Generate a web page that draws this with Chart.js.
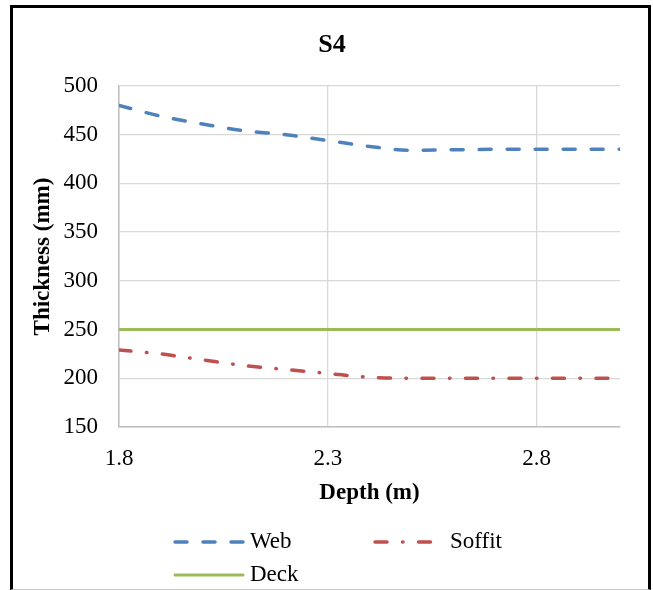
<!DOCTYPE html>
<html>
<head>
<meta charset="utf-8">
<title>S4</title>
<script src="https://cdn.jsdelivr.net/npm/chart.js@4.4.1/dist/chart.umd.min.js"></script>
<style>
  html, body { margin: 0; padding: 0; background: #fff; }
  #wrap { position: relative; width: 653px; height: 590px; overflow: hidden; }
  #frame {
    position: absolute; left: 10px; top: 5px; right: 2px; bottom: 0;
    border: 3px solid #000; border-bottom: 1px solid #c8c8c8;
    pointer-events: none;
  }
</style>
</head>
<body>
<div id="wrap">
  <canvas id="s4"></canvas>
  <div id="frame"></div>
</div>
<script>
const depth = [1.8, 1.9, 2.0, 2.1, 2.2, 2.3, 2.4, 2.5, 2.6, 2.7, 2.8, 2.9, 3.0];
const web = [480, 469, 461, 454, 450, 444, 438, 434, 434.5, 435, 435, 435, 435];
const soffit = [229, 225, 219, 213, 209, 205, 201, 200, 200, 200, 200, 200, 200];
const deck = [250, 250, 250, 250, 250, 250, 250, 250, 250, 250, 250, 250, 250];
const depthTicks = [1.8, 2.3, 2.8];

const serif = '"Liberation Serif", "Times New Roman", serif';
Chart.defaults.font.family = serif;
Chart.defaults.color = "#000";

const pts = ys => depth.map((x, i) => ({ x: x, y: ys[i] }));

// title centred on the whole frame, legend two per row
const legendSlots = [[173, 542], [373, 542], [173, 575]];
const frameText = {
	id: "frameText",
	afterDraw(chart) {
		const ctx = chart.ctx;
		ctx.save();
		ctx.fillStyle = "#000";
		ctx.font = "bold 26px " + serif;
		ctx.textAlign = "center";
		ctx.textBaseline = "middle";
		ctx.fillText("S4", 332, 45);
		ctx.restore();

		chart.data.datasets.forEach((ds, i) => {
			const [x, y] = legendSlots[i];
			ctx.save();
			ctx.strokeStyle = ds.borderColor;
			ctx.lineWidth = ds.borderWidth;
			ctx.lineCap = "round";
			ctx.setLineDash(ds.borderDash || []);
			ctx.beginPath();
			ctx.moveTo(x + 2, y);
			ctx.lineTo(x + 70, y);
			ctx.stroke();
			ctx.setLineDash([]);
			ctx.fillStyle = "#000";
			ctx.font = "23px " + serif;
			ctx.textBaseline = "middle";
			ctx.fillText(ds.label, x + 77, y);
			ctx.restore();
		});
	}
};

new Chart(document.querySelector("#s4"), {
	type: "line",
	data: {
		datasets: [{
			label: "Web",
			data: pts(web),
			borderColor: "#4F81BD",
			borderWidth: 3.5,
			borderDash: [12, 16],
			borderCapStyle: "round",
			cubicInterpolationMode: "monotone",
			pointRadius: 0,
			fill: false
		}, {
			label: "Soffit",
			data: pts(soffit),
			borderColor: "#C0504D",
			borderWidth: 3.5,
			borderDash: [12, 15.5, 0.5, 15.5],
			borderCapStyle: "round",
			cubicInterpolationMode: "monotone",
			pointRadius: 0,
			fill: false
		}, {
			label: "Deck",
			data: pts(deck),
			borderColor: "#9BBB59",
			borderWidth: 3,
			pointRadius: 0,
			fill: false
		}]
	},
	options: {
		responsive: true,
		maintainAspectRatio: false,
		animation: false,
		layout: {
			padding: { left: 14, right: 33, top: 86, bottom: 83 }
		},
		plugins: {
			legend: { display: false },
			tooltip: { enabled: false },
			title: { display: false }
		},
		scales: {
			x: {
				type: "linear",
				min: 1.8,
				max: 3.0,
				afterBuildTicks: scale => {
					scale.ticks = depthTicks.map(v => ({ value: v }));
				},
				afterFit: scale => { scale.height = 80; },
				ticks: {
					font: { size: 23 },
					padding: 18,
					maxRotation: 0,
					callback: v => v.toFixed(1)
				},
				grid: { color: "#d9d9d9", lineWidth: 1.3, drawTicks: false },
				border: { color: "#bfbfbf", width: 1.5 },
				title: {
					display: true,
					text: "Depth (m)",
					font: { size: 23, weight: "bold" },
					padding: { top: 0, bottom: 0 }
				}
			},
			y: {
				min: 150,
				max: 500,
				afterFit: scale => { scale.width = 105; },
				ticks: {
					stepSize: 50,
					font: { size: 23 },
					padding: 21
				},
				grid: { color: "#d9d9d9", lineWidth: 1.3, drawTicks: false },
				border: { color: "#bfbfbf", width: 1.5 },
				title: {
					display: true,
					text: "Thickness (mm)",
					font: { size: 23, weight: "bold" },
					padding: { top: 15, bottom: 0 }
				}
			}
		}
	},
	plugins: [frameText]
});
</script>
</body>
</html>
